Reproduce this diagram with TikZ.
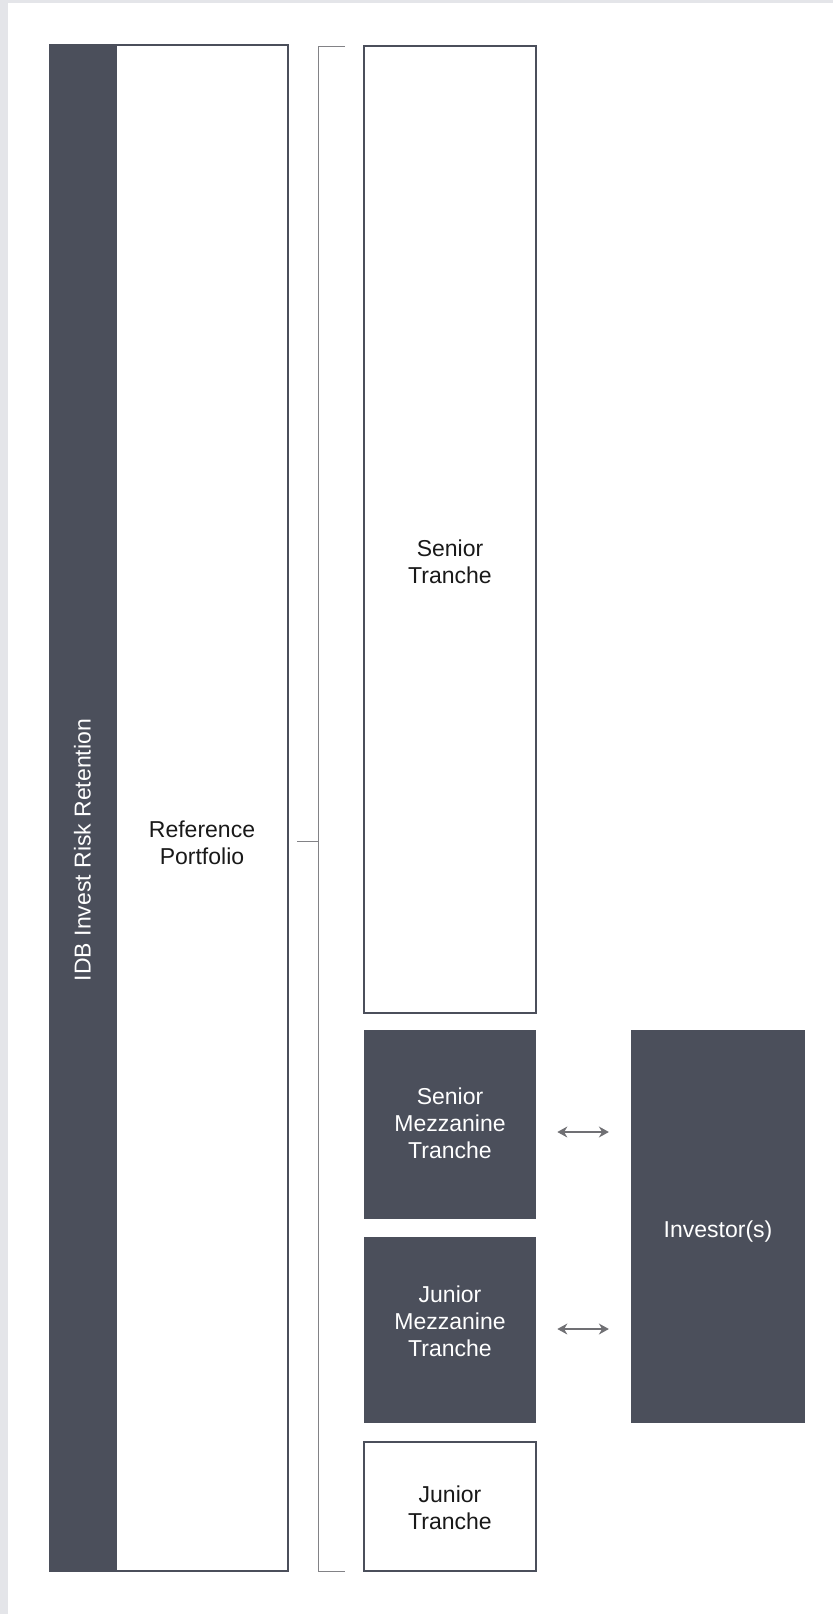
\documentclass[tikz,border=0pt]{standalone}
\usepackage{fontspec}
\setmainfont{Liberation Sans}
\usepackage{tikz}
\usetikzlibrary{arrows.meta,positioning,calc}
\usepackage{xcolor}
\definecolor{slate}{RGB}{75,79,91}
\definecolor{frame}{RGB}{228,229,233}
\definecolor{bracketgray}{RGB}{130,130,134}
\definecolor{arrowgray}{RGB}{112,112,116}

\begin{document}
\begin{tikzpicture}[
    x=1pt,y=-1pt,
    font=\fontsize{23}{27}\selectfont,
    outline/.style={draw=slate,fill=white,line width=2.2pt,inner sep=0pt,outer sep=0pt},
    solid/.style={fill=slate,draw=none,inner sep=0pt,outer sep=0pt},
    darktext/.style={text=black!90,align=center},
    lighttext/.style={text=white,align=center},
    bracket/.style={draw=bracketgray,line width=0.9pt},
    link/.style={{Stealth[length=10pt,width=11pt]}-{Stealth[length=10pt,width=11pt]},draw=arrowgray,line width=1.2pt}
  ]
    % page and its grey edge
    \fill[frame] (0,0) rectangle (833,1614);
    \fill[white] (8,3) rectangle (833,1614);
    \useasboundingbox (0,0) rectangle (833,1614);

    % portfolio column
    \node[outline,minimum width=172pt,minimum height=1526pt] (portfolio) at (202,808) {};
    \node[solid,minimum width=67.5pt,minimum height=1528pt] (retention) at (82.4,808) {};
    \node[lighttext,rotate=90] at (82.4,850) {IDB Invest Risk Retention};
    \node[darktext] at (202,843) {Reference\\Portfolio};

    % tranches
    \node[outline,minimum width=172.7pt,minimum height=967pt] (senior) at (450,529.5) {};
    \node[solid,minimum width=172.7pt,minimum height=189pt] (smezz) at (450,1124.5) {};
    \node[solid,minimum width=172.7pt,minimum height=186pt] (jmezz) at (450,1330.3) {};
    \node[outline,minimum width=172.7pt,minimum height=129pt] (junior) at (450,1506.5) {};

    \node[darktext] at (450,562) {Senior\\Tranche};
    \node[lighttext] at (450,1123) {Senior\\Mezzanine\\Tranche};
    \node[lighttext] at (450,1321) {Junior\\Mezzanine\\Tranche};
    \node[darktext] at (450,1508) {Junior\\Tranche};

    % investors
    \node[solid,minimum width=174.3pt,minimum height=393.3pt] (investor) at (718,1226.7) {};
    \node[lighttext] at (718,1232) {Investor(s)};

    \draw[link,shorten <=21pt,shorten >=22pt] (smezz.east |- 0,1132) -- (investor.west |- 0,1132);
    \draw[link,shorten <=21pt,shorten >=22pt] (jmezz.east |- 0,1329) -- (investor.west |- 0,1329);

    % bracket
    \coordinate (brace) at (318,841);
    \draw[bracket] (345,46) -- (318,46) -- (318,1571) -- (345,1571);
    \draw[bracket] (brace) -- ++(-21,0);
\end{tikzpicture}
\end{document}
